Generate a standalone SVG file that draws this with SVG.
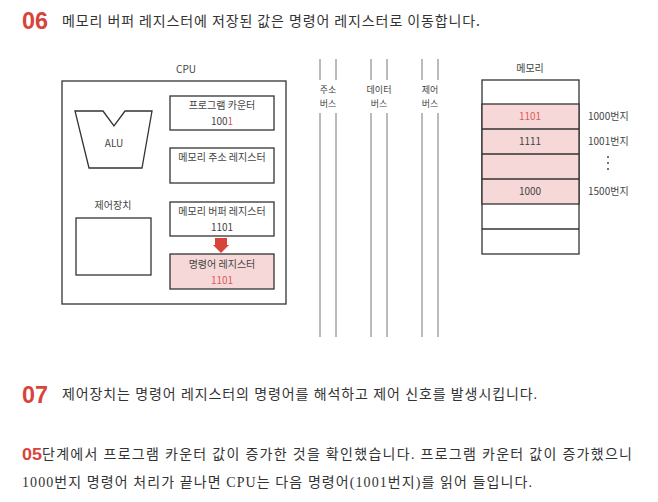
<svg xmlns="http://www.w3.org/2000/svg" width="658" height="502" viewBox="0 0 658 502">
<style>
.k{font-family:"Noto Sans CJK KR","Noto Sans",sans-serif;fill:#333}
.num{font-family:"Liberation Sans",sans-serif;font-weight:bold;fill:#d8443a}
.s{font-family:"Noto Sans CJK KR","Noto Sans",sans-serif;font-size:10px;fill:#444;text-anchor:middle}
.b{font-size:9px}
.r{fill:#e05a5a}
.box{fill:#fff;stroke:#333;stroke-width:1.3}
.pink{fill:#f6d8d8;stroke:#333;stroke-width:1.3}
.bus{stroke:#777;stroke-width:1;fill:none}
.para{font-family:"Liberation Serif","Noto Sans CJK KR",serif;fill:#333}
</style>
<rect width="658" height="502" fill="#fff"/>

<text class="num" x="22" y="29" font-size="24" textLength="26" lengthAdjust="spacingAndGlyphs">06</text>
<text class="k" x="62" y="26" font-size="14" textLength="418">메모리 버퍼 레지스터에 저장된 값은 명령어 레지스터로 이동합니다.</text>

<g id="cpu">
  <text class="s" x="186" y="73">CPU</text>
  <rect class="box" x="62" y="81" width="224" height="223"/>
</g>
<g id="alu">
  <polygon class="box" points="75,111 103,111 114,126 125,111 152,111 142,168 89,168"/>
  <text class="s" x="114" y="147">ALU</text>
</g>
<g id="pc">
  <rect class="box" x="170" y="96" width="104" height="34"/>
  <text class="s" x="222" y="109">프로그램 카운터</text>
  <text class="s" x="222" y="125">100<tspan class="r">1</tspan></text>
</g>
<g id="mar">
  <rect class="box" x="170" y="148" width="104" height="35"/>
  <text class="s" x="222" y="161">메모리 주소 레지스터</text>
</g>
<g id="control">
  <text class="s" x="113" y="209">제어장치</text>
  <rect class="box" x="76" y="218" width="75" height="57"/>
</g>
<g id="mbr">
  <rect class="box" x="170" y="202" width="104" height="34"/>
  <text class="s" x="222" y="215">메모리 버퍼 레지스터</text>
  <text class="s" x="222" y="231">1101</text>
</g>
<g id="ir">
  <rect class="pink" x="170" y="254" width="104" height="35"/>
  <text class="s" x="222" y="268">명령어 레지스터</text>
  <text class="s r" x="222" y="284">1101</text>
</g>

<g id="connectors">
  <polygon points="215,238 227,238 227,245 229,245 221,253 213,245 215,245" fill="#d8443a"/>
</g>

<g id="buses">
  <line class="bus" x1="320" y1="59" x2="320" y2="80"/>
  <line class="bus" x1="336" y1="59" x2="336" y2="80"/>
  <line class="bus" x1="320" y1="113" x2="320" y2="337"/>
  <line class="bus" x1="336" y1="113" x2="336" y2="337"/>
  <text class="s b" x="328" y="93">주소</text>
  <text class="s b" x="328" y="107">버스</text>
  <line class="bus" x1="371" y1="59" x2="371" y2="80"/>
  <line class="bus" x1="387" y1="59" x2="387" y2="80"/>
  <line class="bus" x1="371" y1="113" x2="371" y2="337"/>
  <line class="bus" x1="387" y1="113" x2="387" y2="337"/>
  <text class="s b" x="379" y="93">데이터</text>
  <text class="s b" x="379" y="107">버스</text>
  <line class="bus" x1="422" y1="59" x2="422" y2="80"/>
  <line class="bus" x1="438" y1="59" x2="438" y2="80"/>
  <line class="bus" x1="422" y1="113" x2="422" y2="337"/>
  <line class="bus" x1="438" y1="113" x2="438" y2="337"/>
  <text class="s b" x="430" y="93">제어</text>
  <text class="s b" x="430" y="107">버스</text>
</g>

<g id="memory">
  <text class="s" x="530" y="72">메모리</text>
  <rect class="box" x="482" y="80" width="97" height="174"/>
  <rect class="pink" x="482" y="104" width="97" height="100"/>
  <line x1="482" y1="129" x2="579" y2="129" stroke="#333" stroke-width="1.3"/>
  <line x1="482" y1="154" x2="579" y2="154" stroke="#333" stroke-width="1.3"/>
  <line x1="482" y1="179" x2="579" y2="179" stroke="#333" stroke-width="1.3"/>
  <line x1="482" y1="229" x2="579" y2="229" stroke="#333" stroke-width="1.3"/>
  <text class="s r" x="530" y="120">1101</text>
  <text class="s" x="530" y="145">1111</text>
  <text class="s" x="530" y="195">1000</text>
  <text class="s" x="588" y="120" style="text-anchor:start">1000번지</text>
  <text class="s" x="588" y="145" style="text-anchor:start">1001번지</text>
  <circle cx="608" cy="157" r="1" fill="#444"/>
  <circle cx="608" cy="163" r="1" fill="#444"/>
  <circle cx="608" cy="169" r="1" fill="#444"/>
  <text class="s" x="588" y="195" style="text-anchor:start">1500번지</text>
</g>

<text class="num" x="22" y="403" font-size="24" textLength="26" lengthAdjust="spacingAndGlyphs">07</text>
<text class="para" x="62" y="399" font-size="14" textLength="475">제어장치는 명령어 레지스터의 명령어를 해석하고 제어 신호를 발생시킵니다.</text>

<text class="num" x="22" y="460" font-size="17" textLength="20" lengthAdjust="spacingAndGlyphs">05</text>
<text class="para" x="42" y="459" font-size="14" textLength="590">단계에서 프로그램 카운터 값이 증가한 것을 확인했습니다. 프로그램 카운터 값이 증가했으니</text>
<text class="para" x="22" y="487" font-size="14" textLength="510">1000번지 명령어 처리가 끝나면 CPU는 다음 명령어(1001번지)를 읽어 들입니다.</text>
</svg>
